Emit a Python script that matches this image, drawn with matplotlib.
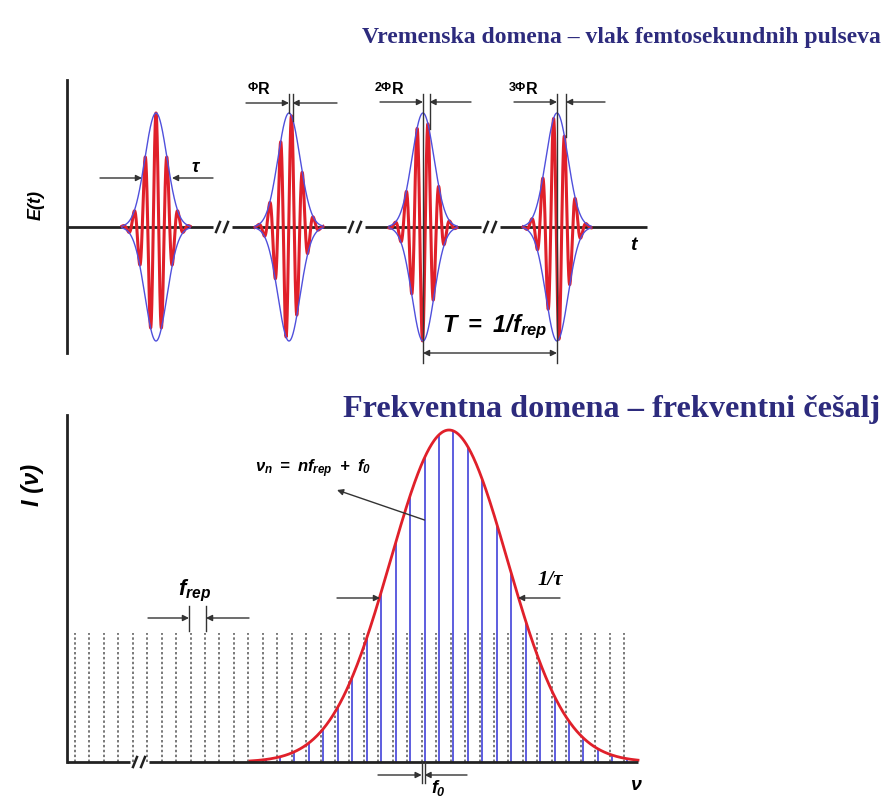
import numpy as np
import matplotlib
matplotlib.use("Agg")
import matplotlib.pyplot as plt

plt.rcParams['mathtext.fontset'] = 'custom'
plt.rcParams['mathtext.rm'] = 'Liberation Sans:bold:italic'
plt.rcParams['mathtext.it'] = 'Liberation Sans:bold:italic'
plt.rcParams['mathtext.bf'] = 'Liberation Sans:bold'

# --- top panel: pulse train (pixel units) ---
pulse_centers = [156, 289, 423, 557]
ceo_shift = [0.0, 2.5, 5.0, 7.5]      # carrier shift w.r.t. envelope, px
pulse_amp = 114
pulse_sigma = 11.0
carrier_period = 11.0
pulse_halfwidth = 34
t_axis_y = 227
t_breaks = [222, 355, 490]

# --- bottom panel: frequency comb ---
spec_center = 449
spec_sigma = 58.6
spec_amp = 332
nu_axis_y = 762
comb_step = 14.45
comb_origin = 424.5          # line n = 0
comb_n = np.arange(-12, 15)
grid_origin = 421.7          # dotted lines (f0 = comb_origin - grid_origin)
grid_m = np.arange(-24, 15)
grid_top = 633
nu_breaks = [139]

title_color = '#2d2b7d'
red = '#e0202a'
blue = '#5050dc'
ink = '#222222'

fig = plt.figure(figsize=(8.96, 8.0), dpi=100)
ax = fig.add_axes([0, 0, 1, 1])
ax.set_xlim(0, 896)
ax.set_ylim(800, 0)
ax.axis('off')


def arrow(x0, y0, x1, y1, style='-|>'):
    ax.annotate('', xy=(x1, y1), xytext=(x0, y0),
                arrowprops=dict(arrowstyle=style, color='#333333', lw=1.0,
                                mutation_scale=9, shrinkA=0, shrinkB=0))


def axis_with_breaks(x0, x1, y, breaks):
    edges = [x0]
    for b in breaks:
        edges += [b - 9, b + 10]
    edges.append(x1)
    for i in range(0, len(edges), 2):
        ax.plot([edges[i], edges[i + 1]], [y, y], color=ink, lw=2, solid_capstyle='butt')
    for b in breaks:
        for dx in (-4, 4):
            ax.plot([b + dx - 2, b + dx + 2], [y + 5, y - 5], color=ink, lw=1.8)


# titles
ax.text(362, 37, 'Vremenska domena – vlak femtosekundnih pulseva', color=title_color,
        fontsize=17, family='Liberation Serif', weight='bold', va='center', ha='left')
ax.text(343, 410, 'Frekventna domena – frekventni češalj', color=title_color,
        fontsize=23.2, family='Liberation Serif', weight='bold', va='center', ha='left')

# ---------------- time domain ----------------
ax.plot([67, 67], [80, 353], color=ink, lw=2)
axis_with_breaks(67, 647, t_axis_y, t_breaks)

for c, s in zip(pulse_centers, ceo_shift):
    x = np.linspace(c - pulse_halfwidth, c + pulse_halfwidth, 3000)
    env = pulse_amp * np.exp(-(x - c) ** 2 / (2 * pulse_sigma ** 2))
    field = env * np.cos(2 * np.pi * (x - c - s) / carrier_period)
    ax.plot(x, t_axis_y - field, color=red, lw=2.2)
    ax.plot(x, t_axis_y - env, color=blue, lw=1.0)
    ax.plot(x, t_axis_y + env, color=blue, lw=1.0)

ax.text(36, 205, 'E(t)', rotation=90, fontsize=13, family='Liberation Sans',
        weight='bold', style='italic', ha='center', va='center')
ax.text(633, 245, 't', fontsize=14, family='Liberation Sans', weight='bold',
        style='italic', ha='center', va='center')

# tau
arrow(100, 178, 142, 178)
arrow(213, 178, 172, 178)
ax.text(196, 167, r'$\tau$', fontsize=13, ha='center', va='center')

# phase markers
phase_mult = ['', '2', '3']
for k, mult in enumerate(phase_mult, start=1):
    c = pulse_centers[k]
    s = ceo_shift[k] + (1.0 if k == 1 else 1.5)
    yl = 103 if k == 1 else 102
    bottom = 363 if k >= 2 else 113
    ax.plot([c, c], [94, bottom], color='#333333', lw=1.0)
    ax.plot([c + s, c + s], [94, 113 + 8 * k], color='#333333', lw=1.0)
    arrow(c - 43, yl, c, yl)
    arrow(c + 48, yl, c + s, yl)
    ax.text(c - 31, 88, mult + 'Φ', fontsize=9, family='Liberation Sans', weight='bold',
            ha='right', va='center')
    ax.text(c - 31, 90, 'R', fontsize=11.5, family='Liberation Sans', weight='bold',
            ha='left', va='center')

# T = 1/f_rep
arrow(pulse_centers[2], 353, pulse_centers[3], 353, style='<|-|>')
ax.text(495, 327, r'$T\ =\ 1/f_{rep}$', fontsize=17, ha='center', va='center')

# ---------------- frequency domain ----------------
ax.plot([67, 67], [415, nu_axis_y], color=ink, lw=2)

grid_x = grid_origin + comb_step * grid_m
for gx in grid_x:
    ax.plot([gx, gx], [nu_axis_y, grid_top], color='#555555', lw=1.1,
            linestyle=(0, (1.6, 1.6)))

comb_x = comb_origin + comb_step * comb_n
comb_h = spec_amp * np.exp(-(comb_x - spec_center) ** 2 / (2 * spec_sigma ** 2))
ax.vlines(comb_x, nu_axis_y, nu_axis_y - comb_h, color=blue, lw=1.3)

xs = np.linspace(250, 638, 800)
spec = spec_amp * np.exp(-(xs - spec_center) ** 2 / (2 * spec_sigma ** 2))
ax.plot(xs, nu_axis_y - spec, color=red, lw=2.0)

axis_with_breaks(67, 638, nu_axis_y, nu_breaks)

ax.text(33, 485, 'I (ν)', rotation=90, fontsize=17, family='Liberation Sans',
        weight='bold', style='italic', ha='center', va='center')
ax.text(636, 785, 'ν', fontsize=14, family='Liberation Sans', weight='bold',
        style='italic', ha='center', va='center')

# FWHM 1/tau
arrow(337, 598, 380, 598)
arrow(560, 598, 518, 598)
ax.text(550, 580, '1/τ', fontsize=15, family='Liberation Serif', weight='bold',
        style='italic', ha='center', va='center')

# f_rep marker
fr0, fr1 = 189, 206
ax.plot([fr0, fr0], [606, 631], color='#333333', lw=1.0)
ax.plot([fr1, fr1], [606, 631], color='#333333', lw=1.0)
arrow(148, 618, fr0, 618)
arrow(249, 618, fr1, 618)
ax.text(195, 591, r'$f_{rep}$', fontsize=16, ha='center', va='center')

# f0 marker
ax.plot([grid_origin, grid_origin], [nu_axis_y, 783], color='#333333', lw=1.0)
ax.plot([comb_origin, comb_origin], [nu_axis_y, 783], color='#333333', lw=1.0)
arrow(378, 775, grid_origin, 775)
arrow(467, 775, comb_origin, 775)
ax.text(438, 788, r'$f_0$', fontsize=13, ha='center', va='center')

# nu_n label with pointer
ax.text(313, 469, r'$\nu_n\ =\ nf_{rep}\ +\ f_0$', fontsize=12, ha='center', va='center')
ax.annotate('', xy=(337, 490), xytext=(comb_origin, 520),
            arrowprops=dict(arrowstyle='-|>', color='#333333', lw=1.0,
                            mutation_scale=9, shrinkA=0, shrinkB=0))

fig.savefig('out.png', dpi=100, facecolor='white')
